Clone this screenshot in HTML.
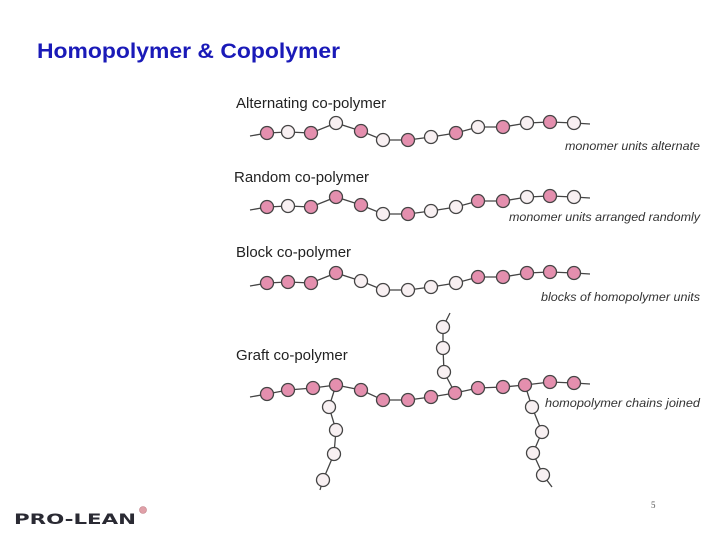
<!DOCTYPE html>
<html><head><meta charset="utf-8"><style>
html,body{margin:0;padding:0;background:#fff;}
svg{display:block;}
</style></head><body>
<svg width="720" height="539" viewBox="0 0 720 539" xmlns="http://www.w3.org/2000/svg">
<rect width="720" height="539" fill="#fff"/>
<text x="37" y="58" font-family="Liberation Sans, sans-serif" font-weight="bold" font-size="21" fill="#1a1ab8" textLength="303" lengthAdjust="spacingAndGlyphs">Homopolymer &amp; Copolymer</text>

<g font-family="Liberation Sans, sans-serif" font-size="15" fill="#222">
<text x="236" y="108">Alternating co-polymer</text>
<text x="234" y="182">Random co-polymer</text>
<text x="236" y="257">Block co-polymer</text>
<text x="236" y="360">Graft co-polymer</text>
</g>
<g font-family="Liberation Sans, sans-serif" font-size="11.5" font-style="italic" fill="#333">
<text x="565" y="150" textLength="135" lengthAdjust="spacingAndGlyphs">monomer units alternate</text>
<text x="509" y="221" textLength="191" lengthAdjust="spacingAndGlyphs">monomer units arranged randomly</text>
<text x="541" y="301" textLength="159" lengthAdjust="spacingAndGlyphs">blocks of homopolymer units</text>
<text x="545" y="407" textLength="155" lengthAdjust="spacingAndGlyphs">homopolymer chains joined</text>
</g>

<defs>
<g id="chain">
<polyline fill="none" stroke="#444" stroke-width="1.3" points="250,136 267,133 288,132 311,133 336,123 361,131 383,140 408,140 431,137 456,133 478,127 503,127 527,123 550,122 574,123 590,124"/>
</g>
</defs>
<g stroke="#444" stroke-width="1.3">
<use href="#chain"/>
<circle cx="267" cy="133" r="6.5" fill="#e48fae"/>
<circle cx="288" cy="132" r="6.5" fill="#f8f0f2"/>
<circle cx="311" cy="133" r="6.5" fill="#e48fae"/>
<circle cx="336" cy="123" r="6.5" fill="#f8f0f2"/>
<circle cx="361" cy="131" r="6.5" fill="#e48fae"/>
<circle cx="383" cy="140" r="6.5" fill="#f8f0f2"/>
<circle cx="408" cy="140" r="6.5" fill="#e48fae"/>
<circle cx="431" cy="137" r="6.5" fill="#f8f0f2"/>
<circle cx="456" cy="133" r="6.5" fill="#e48fae"/>
<circle cx="478" cy="127" r="6.5" fill="#f8f0f2"/>
<circle cx="503" cy="127" r="6.5" fill="#e48fae"/>
<circle cx="527" cy="123" r="6.5" fill="#f8f0f2"/>
<circle cx="550" cy="122" r="6.5" fill="#e48fae"/>
<circle cx="574" cy="123" r="6.5" fill="#f8f0f2"/>
</g>
<g stroke="#444" stroke-width="1.3" transform="translate(0,74)">
<use href="#chain"/>
<circle cx="267" cy="133" r="6.5" fill="#e48fae"/>
<circle cx="288" cy="132" r="6.5" fill="#f8f0f2"/>
<circle cx="311" cy="133" r="6.5" fill="#e48fae"/>
<circle cx="336" cy="123" r="6.5" fill="#e48fae"/>
<circle cx="361" cy="131" r="6.5" fill="#e48fae"/>
<circle cx="383" cy="140" r="6.5" fill="#f8f0f2"/>
<circle cx="408" cy="140" r="6.5" fill="#e48fae"/>
<circle cx="431" cy="137" r="6.5" fill="#f8f0f2"/>
<circle cx="456" cy="133" r="6.5" fill="#f8f0f2"/>
<circle cx="478" cy="127" r="6.5" fill="#e48fae"/>
<circle cx="503" cy="127" r="6.5" fill="#e48fae"/>
<circle cx="527" cy="123" r="6.5" fill="#f8f0f2"/>
<circle cx="550" cy="122" r="6.5" fill="#e48fae"/>
<circle cx="574" cy="123" r="6.5" fill="#f8f0f2"/>
</g>
<g stroke="#444" stroke-width="1.3" transform="translate(0,150)">
<use href="#chain"/>
<circle cx="267" cy="133" r="6.5" fill="#e48fae"/>
<circle cx="288" cy="132" r="6.5" fill="#e48fae"/>
<circle cx="311" cy="133" r="6.5" fill="#e48fae"/>
<circle cx="336" cy="123" r="6.5" fill="#e48fae"/>
<circle cx="361" cy="131" r="6.5" fill="#f8f0f2"/>
<circle cx="383" cy="140" r="6.5" fill="#f8f0f2"/>
<circle cx="408" cy="140" r="6.5" fill="#f8f0f2"/>
<circle cx="431" cy="137" r="6.5" fill="#f8f0f2"/>
<circle cx="456" cy="133" r="6.5" fill="#f8f0f2"/>
<circle cx="478" cy="127" r="6.5" fill="#e48fae"/>
<circle cx="503" cy="127" r="6.5" fill="#e48fae"/>
<circle cx="527" cy="123" r="6.5" fill="#e48fae"/>
<circle cx="550" cy="122" r="6.5" fill="#e48fae"/>
<circle cx="574" cy="123" r="6.5" fill="#e48fae"/>
</g>

<g stroke="#444" stroke-width="1.3">
<polyline fill="none" points="250,397 267,394 288,390 313,388 336,385 361,390 383,400 408,400 431,397 455,393 478,388 503,387 525,385 550,382 574,383 590,384"/>
<polyline fill="none" points="336,385 329,407 336,430 334,454 323,480 320,490"/>
<polyline fill="none" points="455,393 444,372 443,348 443,327 450,313"/>
<polyline fill="none" points="525,385 532,407 542,432 533,453 543,475 552,487"/>
<circle cx="329" cy="407" r="6.5" fill="#f8f0f2"/>
<circle cx="336" cy="430" r="6.5" fill="#f8f0f2"/>
<circle cx="334" cy="454" r="6.5" fill="#f8f0f2"/>
<circle cx="323" cy="480" r="6.5" fill="#f8f0f2"/>
<circle cx="444" cy="372" r="6.5" fill="#f8f0f2"/>
<circle cx="443" cy="348" r="6.5" fill="#f8f0f2"/>
<circle cx="443" cy="327" r="6.5" fill="#f8f0f2"/>
<circle cx="532" cy="407" r="6.5" fill="#f8f0f2"/>
<circle cx="542" cy="432" r="6.5" fill="#f8f0f2"/>
<circle cx="533" cy="453" r="6.5" fill="#f8f0f2"/>
<circle cx="543" cy="475" r="6.5" fill="#f8f0f2"/>
<circle cx="267" cy="394" r="6.5" fill="#e48fae"/>
<circle cx="288" cy="390" r="6.5" fill="#e48fae"/>
<circle cx="313" cy="388" r="6.5" fill="#e48fae"/>
<circle cx="336" cy="385" r="6.5" fill="#e48fae"/>
<circle cx="361" cy="390" r="6.5" fill="#e48fae"/>
<circle cx="383" cy="400" r="6.5" fill="#e48fae"/>
<circle cx="408" cy="400" r="6.5" fill="#e48fae"/>
<circle cx="431" cy="397" r="6.5" fill="#e48fae"/>
<circle cx="455" cy="393" r="6.5" fill="#e48fae"/>
<circle cx="478" cy="388" r="6.5" fill="#e48fae"/>
<circle cx="503" cy="387" r="6.5" fill="#e48fae"/>
<circle cx="525" cy="385" r="6.5" fill="#e48fae"/>
<circle cx="550" cy="382" r="6.5" fill="#e48fae"/>
<circle cx="574" cy="383" r="6.5" fill="#e48fae"/>
</g>

<text x="651" y="508" font-family="Liberation Serif, serif" font-size="9" fill="#555">5</text>
<text x="14" y="524" font-family="DejaVu Sans, sans-serif" font-weight="bold" font-size="14" fill="#2a2a33" textLength="122" lengthAdjust="spacingAndGlyphs">PRO-LEAN</text>
<circle cx="143" cy="510" r="3.5" fill="#e0a0a8" stroke="#c08088" stroke-width="0.6"/>
</svg>
</body></html>
